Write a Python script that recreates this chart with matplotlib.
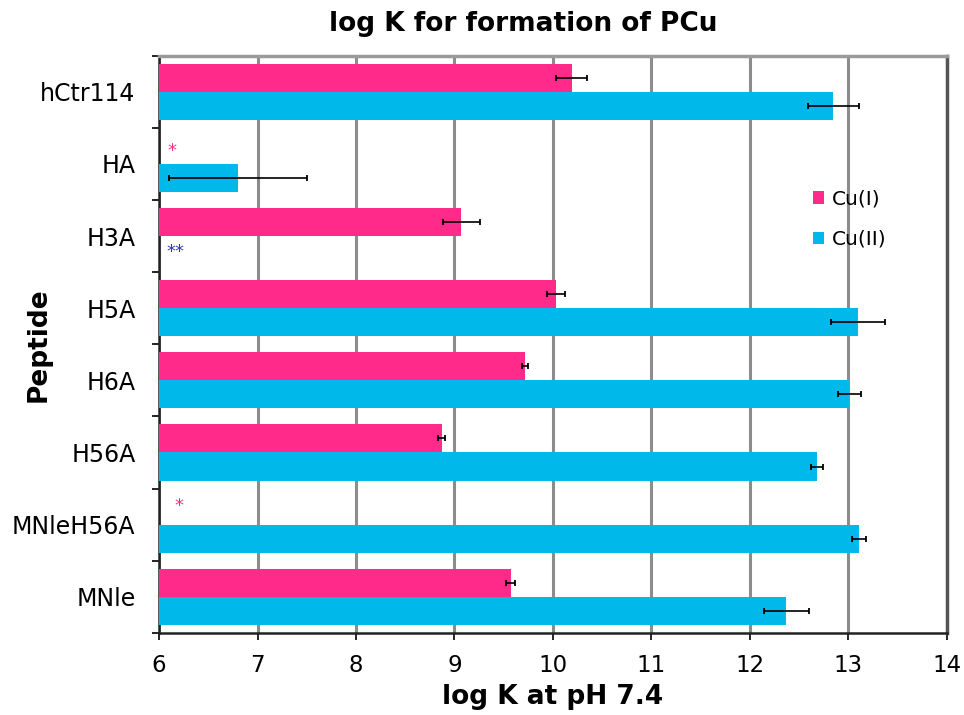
import matplotlib
matplotlib.use("Agg")
import matplotlib.pyplot as plt
import numpy as np

categories = ["hCtr114", "HA", "H3A", "H5A", "H6A", "H56A", "MNleH56A", "MNle"]
cu1 = [10.19, np.nan, 9.07, 10.03, 9.72, 8.87, np.nan, 9.57]
cu1_err = [0.16, 0, 0.19, 0.09, 0.03, 0.035, 0, 0.045]
cu2 = [12.85, 6.80, np.nan, 13.10, 13.01, 12.68, 13.11, 12.37]
cu2_err = [0.26, 0.70, 0, 0.27, 0.115, 0.06, 0.07, 0.23]
xticks = [6, 7, 8, 9, 10, 11, 12, 13, 14]

pink = "#FF2A8A"
blue = "#00B8EA"

fig = plt.figure(figsize=(9.64, 7.15), dpi=100)
ax = fig.add_axes([0.165, 0.115, 0.817, 0.807])

base = 6
y = np.arange(len(categories))
h = 0.39
c1 = np.array(cu1)
c2 = np.array(cu2)
ax.barh(y - h / 2, np.nan_to_num(c1 - base, nan=0), left=base, height=h,
        color=pink, zorder=3, label="Cu(I)")
ax.barh(y + h / 2, np.nan_to_num(c2 - base, nan=0), left=base, height=h,
        color=blue, zorder=3, label="Cu(II)")
m1 = ~np.isnan(c1)
m2 = ~np.isnan(c2)
ax.errorbar(c1[m1], (y - h / 2)[m1], xerr=np.array(cu1_err)[m1], fmt="none",
            ecolor="black", elinewidth=1.2, capsize=2.3, capthick=1.3, zorder=4)
ax.errorbar(c2[m2], (y + h / 2)[m2], xerr=np.array(cu2_err)[m2], fmt="none",
            ecolor="black", elinewidth=1.2, capsize=2.3, capthick=1.3, zorder=4)

# asterisks for missing values
ax.text(6.13, 1 - h / 2 + 0.02, "*", color=pink, fontsize=13, ha="center", va="center")
ax.text(6.17, 2 + h / 2 + 0.02, "**", color="#3030C0", fontsize=13, ha="center", va="center")
ax.text(6.20, 6 - h / 2 - 0.06, "*", color=pink, fontsize=13, ha="center", va="center")

ax.set_xlim(6, 14)
ax.set_ylim(len(categories) - 0.5, -0.5)
ax.set_xticks(xticks)
ax.set_xticklabels([str(v) for v in xticks], fontsize=16.5)
ax.set_yticks(np.arange(len(categories) + 1) - 0.5)
ax.set_yticklabels([])
ax.set_yticks(y, minor=True)
ax.set_yticklabels(categories, minor=True, fontsize=17)
ax.tick_params(axis="y", which="minor", length=0, pad=17)
ax.tick_params(axis="y", which="major", length=5, width=1.2, direction="out")
ax.tick_params(axis="x", which="major", length=5, width=1.2, direction="out", pad=10)

ax.grid(axis="x", color="#8c8c8c", linewidth=2.2, zorder=0)
ax.set_axisbelow(True)

for s in ["left", "bottom"]:
    ax.spines[s].set_color("#222222")
    ax.spines[s].set_linewidth(1.8)
ax.spines["top"].set_color("#9a9a9a")
ax.spines["top"].set_linewidth(2.5)
ax.spines["right"].set_color("#555555")
ax.spines["right"].set_linewidth(2.5)

ax.set_xlabel("log K at pH 7.4", fontsize=19, fontweight="bold", labelpad=5)
ax.set_ylabel("Peptide", fontsize=19, fontweight="bold")
ax.yaxis.set_label_coords(-0.136, 0.5)
fig.text(0.543, 1 - 24 / 715, "log K for formation of PCu", fontsize=19,
         fontweight="bold", ha="center", va="center")

leg = ax.legend(loc="upper left", bbox_to_anchor=(0.82, 0.782), frameon=False,
                fontsize=14.5, handlelength=0.55, handleheight=0.55,
                handletextpad=0.4, labelspacing=1.05, borderaxespad=0)

fig.savefig("out.png", dpi=100)
